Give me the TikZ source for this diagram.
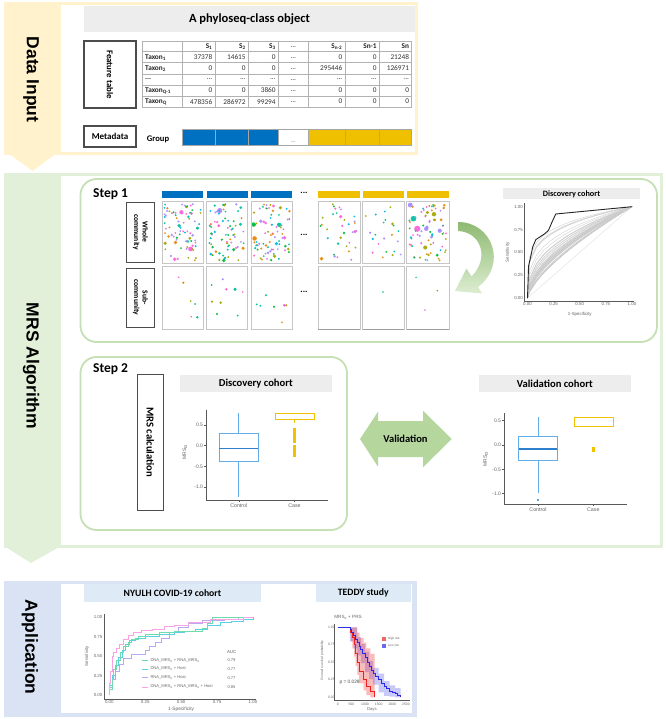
\documentclass[tikz,border=0pt]{standalone}
\usepackage{fontspec}
\setmainfont{Carlito}
\newfontfamily\arialf{Liberation Sans}
\usetikzlibrary{arrows.meta}
\definecolor{yelbg}{HTML}{FFF2CC}
\definecolor{grnbg}{HTML}{E2F0D9}
\definecolor{blubg}{HTML}{DAE3F3}
\definecolor{grnline}{HTML}{C5E0B4}
\definecolor{arrgrn}{HTML}{B5D79E}
\definecolor{arrtop}{HTML}{8FBA72}
\definecolor{arrbot}{HTML}{DCEDD1}
\definecolor{bandgray}{HTML}{EDEDED}
\definecolor{bandblue}{HTML}{DEEBF7}
\definecolor{grpblue}{HTML}{0070C0}
\definecolor{grpyel}{HTML}{EFC000}
\definecolor{dc1}{HTML}{FB61D7}
\definecolor{dc2}{HTML}{00B6EB}
\definecolor{dc3}{HTML}{A3A500}
\definecolor{dc4}{HTML}{E58700}
\definecolor{dc5}{HTML}{00BA38}
\definecolor{dc6}{HTML}{00C19F}
\definecolor{dc7}{HTML}{A58AFF}
\definecolor{boxblue}{HTML}{62AEEA}
\definecolor{medblue}{HTML}{2F7FCF}
\definecolor{caseyel}{HTML}{F2C200}
\definecolor{rocgrn}{HTML}{6FDCB0}
\definecolor{roccyan}{HTML}{5BD0E5}
\definecolor{roclav}{HTML}{BBA8F2}
\definecolor{rocpink}{HTML}{F7A3E4}
\definecolor{kmred}{HTML}{F02020}
\definecolor{kmblue}{HTML}{2A2AE8}
\newcommand\mydd{...}
\newcommand\mydots[6]{%
  \pgfmathsetseed{#6}%
  \foreach \k in {1,...,#5}{%
    \pgfmathsetmacro\xx{#1+2.5+(#3-#1-5)*rnd}%
    \pgfmathsetmacro\yy{#2+2.5+(#4-#2-5)*rnd}%
    \pgfmathsetmacro\rr{1.0+3.0*rnd*rnd*rnd*rnd}%
    \pgfmathrandominteger{\cc}{1}{7}%
    \fill[dc\cc,opacity=0.92] (\xx,\yy) circle[radius=\rr];%
  }%
}
\tikzset{
  secttext/.style={rotate=-90, font=\arialf\bfseries\fontsize{17.5}{18}\selectfont, inner sep=0pt},
  lbox/.style={draw=black!70, line width=1.1pt, fill=white, inner sep=0pt},
  tcell/.style={font=\fontsize{7.3}{8}\selectfont, text=black!80, inner sep=0pt},
  tcr/.style={tcell, anchor=east},
  tbold/.style={font=\bfseries\fontsize{7.3}{8}\selectfont, text=black!85, inner sep=0pt},
  axl/.style={draw=black!65, line width=0.45pt},
  ticklab/.style={font=\arialf\fontsize{4.4}{5}\selectfont, text=black!60, inner sep=0.3pt},
  smalllab/.style={font=\arialf\fontsize{3.4}{4}\selectfont, text=black!60, inner sep=0.3pt},
  hdr/.style={font=\bfseries\fontsize{10.6}{11}\selectfont, inner sep=0pt},
  panel/.style={draw=gray!45, line width=0.8pt},
  stepbox/.style={draw=grnline, line width=1.8pt, rounded corners=16pt},
}
\begin{document}
\begin{tikzpicture}[x=1pt,y=-1pt]
\useasboundingbox (0,0) rectangle (665,719);
\fill[white] (0,0) rectangle (665,719);

% ================= DATA INPUT =================
\fill[yelbg] (4,2) rectangle (418,155);
\fill[yelbg] (4,150) -- (61,150) -- (32.5,171) -- cycle;
\fill[white] (61,5) rectangle (415,152);
\node[secttext] (lab1) at (31,79.5) {Data Input};
\fill[bandgray] (84,6) rectangle (415,32);
\node[font=\bfseries\fontsize{12.5}{13}\selectfont, inner sep=0pt] (title1) at (249.5,19) {A phyloseq-class object};

\node[lbox, minimum width=52pt, minimum height=67pt] (ft) at (110,74.5) {};
\node[rotate=-90, font=\bfseries\fontsize{8.8}{9}\selectfont, inner sep=0pt] (ftl) at (ft.center) {Feature table};
\node[lbox, minimum width=52pt, minimum height=21pt] (md) at (110,136.5) {};
\node[font=\bfseries\fontsize{9}{9}\selectfont, inner sep=0pt] (mdl) at (md.center) {Metadata};
\node[font=\bfseries\fontsize{8.6}{9}\selectfont, inner sep=0pt] (grp) at (158,139) {Group};

% table grid
\foreach \xe in {142.3,182.7,215,248.3,278.3,308.3,345,379.3,411.7}
  \draw[gray!60, line width=0.6pt] (\xe,41) -- (\xe,107.3);
\foreach \ye in {41,51.7,62.7,74,85,96,107.3}
  \draw[gray!60, line width=0.6pt] (142.3,\ye) -- (411.7,\ye);
\foreach \xe/\t [count=\i] in {212.5/S\textsubscript{1}, 245.8/S\textsubscript{2}, 275.8/S\textsubscript{3}, 342.5/S\textsubscript{n-2}, 376.8/Sn-1, 409.2/Sn}
  \node[tbold, anchor=east] (h\i) at (\xe,46.6) {\t};
\node[tcell] (hd) at (293.3,47) {\mydd};
\foreach \yy/\lab/\va/\vb/\vc/\vd/\ve/\vf [count=\i] in {
  57.2/Taxon\textsubscript{1}/37378/14615/0/0/0/21248,
  68.35/Taxon\textsubscript{2}/0/0/0/295446/0/126971,
  79.5/\mydd/\mydd/\mydd/\mydd/\mydd/\mydd/\mydd,
  90.5/Taxon\textsubscript{Q-1}/0/0/3860/0/0/0,
  101.65/Taxon\textsubscript{Q}/478356/286972/99294/0/0/0}
{
  \node[tbold, anchor=west] (r\i) at (145,\yy) {\lab};
  \node[tcr] (r\i a) at (212.5,\yy) {\va};
  \node[tcr] (r\i b) at (245.8,\yy) {\vb};
  \node[tcr] (r\i c) at (275.8,\yy) {\vc};
  \node[tcell] (r\i d) at (293.3,\yy+0.5) {\mydd};
  \node[tcr] (r\i e) at (342.5,\yy) {\vd};
  \node[tcr] (r\i f) at (376.8,\yy) {\ve};
  \node[tcr] (r\i g) at (409.2,\yy) {\vf};
}
% group bar
\foreach \xa/\xb/\col in {182.7/215/grpblue, 215/248.3/grpblue, 248.3/278.3/grpblue, 278.3/308.3/white, 308.3/345/grpyel, 345/379.3/grpyel, 379.3/411.7/grpyel}
  \filldraw[fill=\col, draw=gray!70, line width=0.5pt] (\xa,129) rectangle (\xb,145);
\node[tcell, font=\fontsize{5}{5}\selectfont] (gdots) at (293.3,142) {\mydd};

% ================= MRS ALGORITHM =================
\fill[grnbg] (4,173) rectangle (663,548);
\fill[grnbg] (4,546) -- (61,546) -- (31,563) -- cycle;
\fill[white] (61,176) rectangle (660,545);
\node[secttext] (lab2) at (31,366) {MRS Algorithm};

\draw[stepbox] (80.5,179) rectangle (657,342);
\draw[stepbox] (80.5,357) rectangle (347,530);
\node[font=\bfseries\fontsize{13.5}{14}\selectfont, anchor=west, inner sep=0pt] (s1) at (93,194) {Step 1};
\node[font=\bfseries\fontsize{13.5}{14}\selectfont, anchor=west, inner sep=0pt] (s2) at (93,369) {Step 2};

\node[lbox, line width=1pt, minimum width=27.6pt, minimum height=60.3pt] (wc) at (140.5,232.2) {};
\node[rotate=-90, align=center, font=\bfseries\fontsize{7.6}{8.6}\selectfont, inner sep=0pt] (wcl) at (wc.center) {Whole\\community};
\node[lbox, line width=1pt, minimum width=27.6pt, minimum height=59pt] (sc) at (140.5,297.5) {};
\node[rotate=-90, align=center, font=\bfseries\fontsize{7.6}{8.6}\selectfont, inner sep=0pt] (scl) at (sc.center) {Sub-\\community};

% dots in whole community panels
\mydots{162}{201.7}{203.3}{263.3}{78}{11}
\mydots{206.7}{201.7}{247.7}{263.3}{72}{23}
\mydots{251}{201.7}{292}{263.3}{80}{37}
\mydots{318}{201.7}{360}{263.3}{34}{41}
\mydots{362.7}{201.7}{404}{263.3}{22}{53}
\mydots{406.7}{201.7}{449}{263.3}{75}{67}
% sub community dots
\foreach \px/\py/\pc/\pr in {178.7/277.3/dc1/0.9, 183.3/282.7/dc4/1.2, 190.7/301/dc3/0.9, 195/304/dc6/1, 191.3/316.7/dc1/0.9, 197.3/317.3/dc6/1.3,
  211.7/285/dc6/1, 222.7/279.3/dc7/1.1, 226.3/289.3/dc1/1.3, 235/289.3/dc6/1.7, 242.7/292/dc1/0.9, 212/301.7/dc3/1.2, 220.7/302.7/dc3/1.3, 217/314/dc5/1.1, 237.7/315.7/dc6/1,
  266/295.3/dc6/1.1, 256.7/304.3/dc6/1, 260.3/305.7/dc6/1, 274/306.7/dc5/1.1, 284.3/305.3/dc1/1.5, 286.3/305.3/dc3/1.1, 282/322.3/dc4/0.9,
  383/292/dc6/0.8, 416/277.3/dc6/0.8, 437.3/290.7/dc3/0.9, 425/310/dc1/0.8}
  \fill[\pc] (\px,\py) circle[radius=\pr];
% panels and bars
\foreach \xa/\xb/\col [count=\i] in {162/203.3/grpblue, 206.7/247.7/grpblue, 251/292/grpblue, 318/360/grpyel, 362.7/404/grpyel, 406.7/449/grpyel}{
  \fill[\col] (\xa,190.7) rectangle (\xb,198);
  \draw[panel] (\xa,201.7) rectangle (\xb,263.3);
  \draw[panel] (\xa,266.7) rectangle (\xb,329.3);
}
\foreach \xa/\xb in {318/360, 362.7/404, 406.7/449}
  \draw[gray!75, line width=1pt] (\xa,329.3) -- (\xb,329.3);
\foreach \yy [count=\i] in {194,236.7,293}
  \node[font=\bfseries\fontsize{9}{9}\selectfont, inner sep=0pt] (dd\i) at (304,\yy-1.5) {\mydd};

% curved arrow
\shade[top color=arrtop, bottom color=arrbot]
  (458,222) .. controls (492,222) and (508,264) .. (478,287)
  -- (482,293.5) -- (455,291) -- (466.5,268.5) -- (471.5,276.5)
  .. controls (490,258) and (481,232) .. (458,231) -- cycle;

% step 1 ROC
\fill[bandgray] (503,188) rectangle (640,199.5);
\node[font=\bfseries\fontsize{8.2}{9}\selectfont, inner sep=0pt] (dc1t) at (571.5,193.8) {Discovery cohort};
\draw[axl] (524.5,203) -- (524.5,301) -- (634,301);
\begin{scope}[shift={(527.5,298)}, x=104.5pt, y=91.3pt]
  \draw[gray!25, line width=0.4pt] (0,0) -- (1,1);
  \pgfmathsetseed{321}
  \foreach \k in {1,...,40}{
    \pgfmathsetmacro\aa{0.2+0.5*rnd}
    \draw[gray!40, line width=0.35pt] (0,0) -- plot[domain=0.02:1, samples=16] (\x,{\x^\aa});
  }
  \draw[black!85, line width=0.9pt] (0,0) -- (0.01,0.35) -- (0.03,0.45) -- (0.05,0.56) -- (0.08,0.64) -- (0.12,0.67) -- (0.16,0.7) -- (0.2,0.74) -- (0.23,0.82) -- (0.27,0.92) -- (1,1);
  \foreach \v/\t [count=\i] in {0/0.00,0.25/0.25,0.5/0.50,0.75/0.75,1/1.00}{
    \node[ticklab, anchor=east] (s1y\i) at (-0.04,\v) {\t};
    \node[ticklab, anchor=north] (s1x\i) at (\v,-0.045) {\t};
  }
  \node[ticklab] (s1xl) at (0.5,-0.175) {1-Specificity};
  \node[ticklab, rotate=90] (s1yl) at (-0.19,0.5) {Sensitivity};
\end{scope}

% step 2
\node[lbox, line width=1pt, minimum width=26pt, minimum height=135.7pt] (mc) at (150.3,442.2) {};
\node[rotate=-90, font=\bfseries\fontsize{10.6}{11}\selectfont, inner sep=0pt] (mcl) at (mc.center) {MRS calculation};
\fill[bandgray] (180,375) rectangle (331.7,392.3);
\node[hdr] (dc2t) at (255.8,383.6) {Discovery cohort};
\draw[axl] (206,410) -- (206,500) -- (328,500);
\foreach \v/\t [count=\i] in {0.5/0.5,0/0.0,-0.5/-0.5,-1/-1.0}{
  \draw[axl] (204,445.7-41.3*\v) -- (206,445.7-41.3*\v);
  \node[ticklab, anchor=east, font=\arialf\fontsize{5}{5}\selectfont] (b1y\i) at (203.5,445.7-41.3*\v) {\t};
}
\draw[boxblue, line width=1pt] (238.8,413.3) -- (238.8,433.3);
\draw[boxblue, line width=1pt] (238.8,461.7) -- (238.8,496.7);
\draw[boxblue, line width=1pt] (219.3,433.3) rectangle (258.3,461.7);
\draw[medblue, line width=1.3pt] (219.3,448.7) -- (258.3,448.7);
\draw[caseyel, line width=1pt] (275,413.3) rectangle (314,419);
\draw[caseyel, line width=1.3pt] (275,413.3) -- (314,413.3);
\draw[caseyel, line width=1pt] (294.5,419) -- (294.5,423.3);
\draw[caseyel, line width=2.4pt] (294.5,428) -- (294.5,443);
\draw[caseyel, line width=2.4pt] (294.5,444.5) -- (294.5,456.5);
\draw[axl] (238.8,500) -- (238.8,502);
\draw[axl] (294.5,500) -- (294.5,502);
\node[ticklab, font=\arialf\fontsize{5.3}{6}\selectfont] (b1c) at (238.8,506) {Control};
\node[ticklab, font=\arialf\fontsize{5.3}{6}\selectfont] (b1k) at (294.5,506) {Case};
\node[ticklab, rotate=90, font=\arialf\fontsize{5}{6}\selectfont] (b1l) at (185,452) {MRS\textsubscript{α}};

% validation arrow
\fill[arrgrn] (360,439) -- (378,411.7) -- (378,421) -- (423,421) -- (423,410.7) -- (451.7,439) -- (423,467.3) -- (423,457) -- (378,457) -- (378,466.7) -- cycle;
\node[font=\bfseries\fontsize{10.5}{11}\selectfont, inner sep=0pt] (val) at (405.5,439) {Validation};

% validation cohort
\fill[bandgray] (479,375) rectangle (630.7,392.3);
\node[hdr] (vct) at (554.8,383.6) {Validation cohort};
\draw[axl] (504,413) -- (504,504.3) -- (627,504.3);
\foreach \v/\t [count=\i] in {0.5/0.5,0/0.0,-0.5/-0.5,-1/-1.0}{
  \draw[axl] (502,445-48.6*\v) -- (504,445-48.6*\v);
  \node[ticklab, anchor=east, font=\arialf\fontsize{5}{5}\selectfont] (b2y\i) at (501.5,445-48.6*\v) {\t};
}
\draw[boxblue, line width=1pt] (538,417.3) -- (538,436);
\draw[boxblue, line width=1pt] (538,460) -- (538,493.3);
\draw[boxblue, line width=1pt] (518.7,436) rectangle (557.3,460);
\draw[medblue, line width=1.3pt] (518.7,449) -- (557.3,449);
\fill[medblue] (538,500) circle[radius=1.2];
\draw[caseyel, line width=1pt] (574,417.3) rectangle (613.7,426.7);
\draw[caseyel, line width=1.3pt] (574,417.3) -- (613.7,417.3);
\draw[caseyel, line width=2.4pt] (593.3,446.5) -- (593.3,451.5);
\draw[axl] (538,504.3) -- (538,506.3);
\draw[axl] (593.3,504.3) -- (593.3,506.3);
\node[ticklab, font=\arialf\fontsize{5.3}{6}\selectfont] (b2c) at (538,510) {Control};
\node[ticklab, font=\arialf\fontsize{5.3}{6}\selectfont] (b2k) at (593.3,510) {Case};
\node[ticklab, rotate=90, font=\arialf\fontsize{5}{6}\selectfont] (b2l) at (485.7,459) {MRS\textsubscript{α}};

% ================= APPLICATION =================
\fill[blubg] (4,581) rectangle (417,717);
\fill[white] (60.6,584) rectangle (412,713);
\node[secttext] (lab3) at (30,647) {Application};
\fill[bandblue] (83.5,584) rectangle (261.4,601.7);
\node[font=\bfseries\fontsize{9.7}{10}\selectfont, inner sep=0pt] (nyt) at (172.5,593) {NYULH COVID-19 cohort};
\fill[bandblue] (315.7,584) rectangle (411,601.7);
\node[font=\bfseries\fontsize{9.7}{10}\selectfont, inner sep=0pt] (tdt) at (363.3,593) {TEDDY study};

% NYULH ROC
\draw[axl] (103.8,614) -- (103.8,699) -- (256,699);
\begin{scope}[shift={(109.3,695)}, x=143.7pt, y=77.7pt]
  \foreach \v/\t [count=\i] in {0/0.00,0.25/0.25,0.5/0.50,0.75/0.75,1/1.00}{
    \node[ticklab, anchor=east] (a1y\i) at (-0.045,\v) {\t};
    \node[ticklab, anchor=north] (a1x\i) at (\v,-0.065) {\t};
  }
  \node[ticklab, font=\arialf\fontsize{4.8}{5}\selectfont] (a1xl) at (0.5,-0.18) {1-Specificity};
  \node[ticklab, rotate=90] (a1yl) at (-0.155,0.5) {Sensitivity};
  \draw[roclav, line width=0.7pt] (0,0) |- (0.02,0.1) |- (0.04,0.2) |- (0.07,0.3) |- (0.1,0.4) |- (0.15,0.47) |- (0.25,0.52) |- (0.28,0.58) |- (0.32,0.63) |- (0.36,0.68) |- (0.42,0.73) |- (0.48,0.8) |- (0.55,0.87) |- (0.65,0.92) |- (0.8,0.96) |- (0.9,0.98) |- (1,1);
  \draw[roccyan, line width=0.7pt] (0,0) |- (0.02,0.12) |- (0.04,0.25) |- (0.06,0.38) |- (0.09,0.48) |- (0.11,0.58) |- (0.14,0.65) |- (0.18,0.7) |- (0.25,0.73) |- (0.35,0.75) |- (0.45,0.78) |- (0.52,0.8) |- (0.6,0.82) |- (0.68,0.85) |- (0.77,0.9) |- (0.85,0.93) |- (0.93,0.95) |- (1,0.97) |- (1,1);
  \draw[rocgrn, line width=0.7pt] (0,0) |- (0.02,0.07) |- (0.03,0.2) |- (0.05,0.33) |- (0.08,0.45) |- (0.1,0.55) |- (0.13,0.62) |- (0.15,0.68) |- (0.2,0.72) |- (0.25,0.76) |- (0.35,0.78) |- (0.45,0.8) |- (0.65,0.82) |- (0.68,0.86) |- (0.72,0.92) |- (0.73,1) |- (1,1);
  \draw[rocpink, line width=0.7pt] (0,0) |- (0.01,0.15) |- (0.02,0.3) |- (0.03,0.5) |- (0.05,0.55) |- (0.07,0.6) |- (0.1,0.65) |- (0.13,0.72) |- (0.17,0.77) |- (0.22,0.8) |- (0.3,0.83) |- (0.38,0.85) |- (0.45,0.88) |- (0.55,0.9) |- (0.7,0.93) |- (0.75,0.97) |- (0.93,0.97) |- (0.97,1) |- (1,1);
\end{scope}
\node[ticklab, anchor=west] (auc) at (226.5,651.7) {AUC};
\foreach \yy/\col/\lab/\v [count=\i] in {660.3/rocgrn/{DNA\_MRS\textsubscript{α} + RNA\_MRS\textsubscript{α}}/0.79, 669/roccyan/{DNA\_MRS\textsubscript{α} + Host}/0.77, 677.7/roclav/{RNA\_MRS\textsubscript{α} + Host}/0.77, 687/rocpink/{DNA\_MRS\textsubscript{α} + RNA\_MRS\textsubscript{α} + Host}/0.85}{
  \draw[\col, line width=0.7pt] (142,\yy) -- (148,\yy);
  \node[ticklab, anchor=west, font=\arialf\fontsize{4.1}{5}\selectfont] (lg\i) at (150,\yy) {\lab};
  \node[ticklab, anchor=west, font=\arialf\fontsize{4.1}{5}\selectfont] (lv\i) at (227,\yy) {\v};
}

% TEDDY KM
\node[ticklab, font=\arialf\fontsize{4.6}{5}\selectfont] (kmt) at (348,617.7) {MRS\textsubscript{α} + PRS};
\draw[axl] (334.7,624) -- (334.7,700.5) -- (410,700.5);
\begin{scope}[shift={(337.7,697.3)}, x=0.02732pt, y=70pt]
  \foreach \d [count=\i] in {0,500,1000,1500,2000,2500}
    \node[smalllab, anchor=north] (kx\i) at (\d,-0.07) {\d};
  \foreach \v/\t [count=\i] in {0/0.00,0.25/0.25,0.5/0.50,0.75/0.75,1/1.00}
    \node[smalllab, anchor=east] (ky\i) at (-90,\v) {\t};
  \node[smalllab, font=\arialf\fontsize{4.2}{5}\selectfont] (kxl) at (1250,-0.17) {Days};
  \node[smalllab, rotate=90] (kyl) at (-570,0.53) {Overall survival probability};
  % blue band
  \fill[kmblue, opacity=0.25] (450,1) -| (720,0.86) -| (850,0.76) -| (1000,0.65) -| (1150,0.52) -| (1300,0.42) -| (1500,0.34) -| (1700,0.23) -| (1900,0.17) -| (2100,0.13) -| (2300,0.08) -- (2300,0) -- (2100,0) |- (1900,0.01) |- (1700,0.02) |- (1500,0.07) |- (1300,0.18) |- (1150,0.26) |- (1000,0.36) |- (850,0.49) |- (720,0.6) |- (580,0.7) |- (450,0.8) -- cycle;
  % red band
  \fill[kmred, opacity=0.3] (480,1) -| (700,0.92) -| (800,0.85) -| (950,0.78) -| (1050,0.7) -| (1200,0.62) -| (1350,0) -- (1200,0) |- (1050,0.03) |- (950,0.1) |- (780,0.2) |- (720,0.32) |- (660,0.45) |- (600,0.58) |- (540,0.7) |- (480,0.8) -- cycle;
  \draw[kmred, line width=0.9pt] (0,1) -| (480,0.92) -| (540,0.85) -| (600,0.75) -| (660,0.62) -| (720,0.5) -| (780,0.37) -| (950,0.25) -| (1050,0.15) -| (1200,0.08) -| (1350,0);
  \draw[kmblue, line width=0.9pt] (0,1) -| (450,0.97) -| (520,0.93) -| (580,0.88) -| (650,0.83) -| (720,0.78) -| (780,0.73) -| (850,0.68) -| (920,0.63) -| (1000,0.57) -| (1080,0.5) -| (1150,0.44) -| (1220,0.38) -| (1300,0.34) -| (1400,0.3) -| (1500,0.26) -| (1600,0.2) -| (1700,0.15) -| (1800,0.12) -| (1900,0.09) -| (2000,0.07) -| (2100,0.05) -| (2200,0.02) -| (2300,0);
\end{scope}
\fill[kmred!70] (381.5,637.3) rectangle (385.5,641);
\fill[kmblue!70] (381.5,644) rectangle (385.5,647.7);
\node[smalllab, anchor=west, font=\arialf\fontsize{3}{3}\selectfont] (hr) at (387.5,639.2) {High risk};
\node[smalllab, anchor=west, font=\arialf\fontsize{3}{3}\selectfont] (lr) at (387.5,645.9) {Low risk};
\node[ticklab, anchor=west, font=\arialf\fontsize{4.8}{5}\selectfont, text=black!70] (pv) at (339,682.7) {p = 0.029};
\end{tikzpicture}
\end{document}
